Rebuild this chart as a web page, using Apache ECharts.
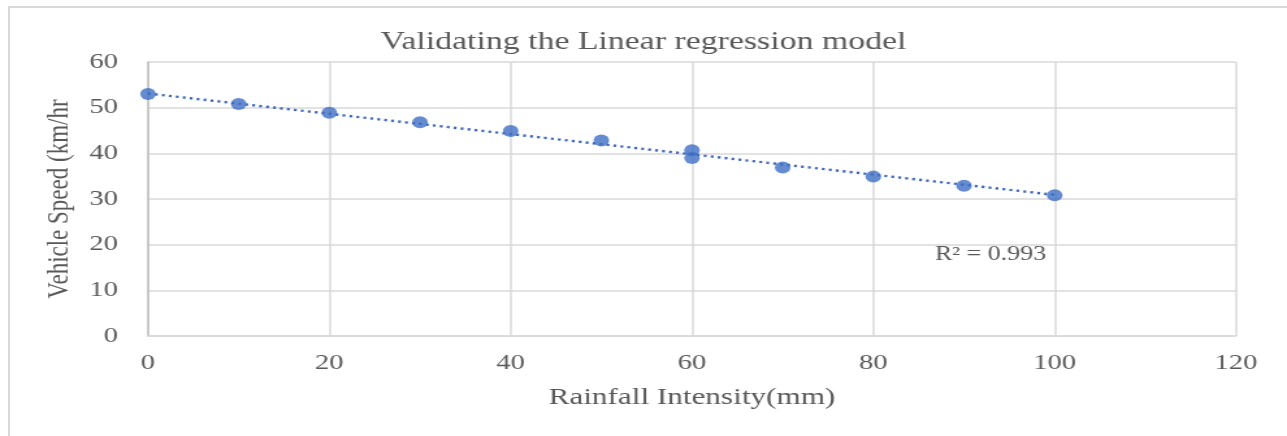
<!DOCTYPE html>
<html>
<head>
<meta charset="utf-8">
<script src="https://cdn.jsdelivr.net/npm/echarts@6/dist/echarts.min.js"></script>
<style>
  html, body { margin: 0; padding: 0; background: #fff; overflow: hidden; }
  #frame { position: absolute; left: 8px; top: 6px; width: 1400px; height: 500px;
           border-left: 2px solid #d9d9d9; border-top: 2px solid #d9d9d9; }
  #chart { position: absolute; left: 0; top: 0; width: 990px; height: 436px;
           transform: scaleX(1.3); transform-origin: 0 0; }
</style>
</head>
<body>
<div id="frame"></div>
<div id="chart"></div>
<script>
// Data
const rainfall = [0, 10, 20, 30, 40, 50, 60, 60, 70, 80, 90, 100];
const speed = [53, 50.8, 48.9, 46.8, 44.9, 42.8, 40.7, 39.0, 36.9, 34.9, 32.9, 30.8];
const trendX = [0, 100];
const trendY = [53.1, 30.9];
const xTicks = [0, 20, 40, 60, 80, 100, 120];
const yTicks = [0, 10, 20, 30, 40, 50, 60];
const titleText = 'Validating the Linear regression model';
const xName = 'Rainfall Intensity(mm)';
const yName = 'Vehicle Speed (km/hr';
const r2Text = 'R\u00B2 = 0.993';

const FONT = '"Liberation Serif", "Times New Roman", serif';
const GREY = '#595959';
const S = 1.3; // horizontal stretch applied via CSS

const chart = echarts.init(document.getElementById('chart'), null, { renderer: 'canvas' });
const points = rainfall.map((x, i) => [x, speed[i]]);
const trend = trendX.map((x, i) => [x, trendY[i]]);

chart.setOption({
  animation: false,
  backgroundColor: 'transparent',
  title: {
    text: titleText,
    left: 'center',
    top: 24,
    textStyle: { fontFamily: FONT, fontSize: 26, fontWeight: 'normal', color: GREY }
  },
  grid: { left: 148 / S, right: 990 - 1236 / S, top: 62, bottom: 100, containLabel: false },
  xAxis: {
    type: 'value',
    min: xTicks[0], max: xTicks[xTicks.length - 1], interval: 20,
    name: xName, nameLocation: 'middle', nameGap: 50,
    nameTextStyle: { fontFamily: FONT, fontSize: 24, color: GREY },
    axisLine: { show: true, lineStyle: { color: '#d9d9d9', width: 1.5 } },
    axisTick: { show: false },
    axisLabel: { fontFamily: FONT, fontSize: 22, color: GREY, margin: 16 },
    splitLine: { show: true, lineStyle: { color: '#d9d9d9', width: 1.5 } }
  },
  yAxis: {
    type: 'value',
    min: yTicks[0], max: yTicks[yTicks.length - 1], interval: 10,
    name: yName, nameLocation: 'middle', nameGap: 56, nameRotate: 90,
    nameTextStyle: { fontFamily: FONT, fontSize: 23, color: GREY },
    axisLine: { show: true, lineStyle: { color: '#bfbfbf', width: 1.5 } },
    axisTick: { show: false },
    axisLabel: { fontFamily: FONT, fontSize: 22, color: GREY, margin: 23 },
    splitLine: { show: true, lineStyle: { color: '#d9d9d9', width: 1.5 } }
  },
  series: [
    {
      type: 'line',
      data: trend,
      symbol: 'none',
      lineStyle: { color: '#4068b8', width: 2.4, type: [2.2, 3.2] },
      z: 2
    },
    {
      type: 'scatter',
      data: points,
      symbol: 'circle',
      symbolSize: [12, 12],
      itemStyle: { color: '#3f6ec4' },
      z: 3
    }
  ],
  graphic: [{
    type: 'text',
    left: 987 / S - 40,
    top: 245,
    style: { text: r2Text, fontFamily: FONT, fontSize: 20, fill: GREY }
  }]
});
</script>
</body>
</html>
